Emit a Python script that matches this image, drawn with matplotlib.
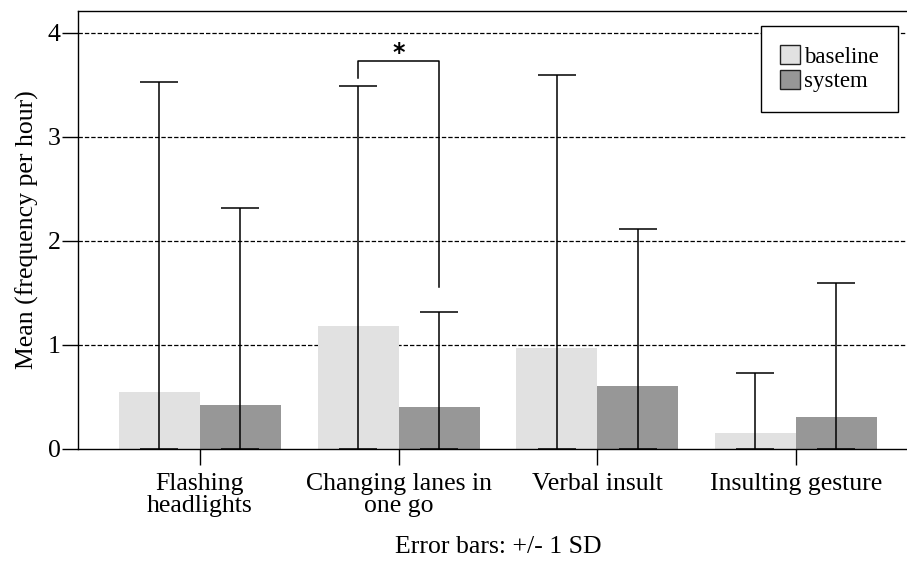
import numpy as np
import matplotlib
matplotlib.use("Agg")
import matplotlib.pyplot as plt

# mean frequency per hour and standard deviation per behaviour
categories = ["Flashing\nheadlights", "Changing lanes in\none go", "Verbal insult", "Insulting gesture"]
baseline_mean = [0.55, 1.18, 0.97, 0.15]
baseline_sd = [2.98, 2.31, 2.62, 0.58]
system_mean = [0.42, 0.40, 0.61, 0.31]
system_sd = [1.90, 0.92, 1.50, 1.29]

plt.rcParams["font.family"] = ["Liberation Serif", "DejaVu Serif"]
fs = 18.5

fig = plt.figure(figsize=(9.07, 5.62), dpi=100)
ax = fig.add_axes([0.086, 0.2011, 0.926, 0.7794])

x = np.arange(len(categories))
width = 0.408

bm = np.array(baseline_mean)
bs = np.array(baseline_sd)
sm = np.array(system_mean)
ss = np.array(system_sd)

ax.bar(x - width / 2, bm, width, color="#e1e1e1", label="baseline", zorder=2)
ax.bar(x + width / 2, sm, width, color="#979797", label="system", zorder=2)

# error bars are cut off at zero
ax.errorbar(x - width / 2, bm, yerr=[np.minimum(bs, bm), bs], fmt="none",
            ecolor="black", elinewidth=1.1, capsize=14, capthick=1.1, zorder=3)
ax.errorbar(x + width / 2, sm, yerr=[np.minimum(ss, sm), ss], fmt="none",
            ecolor="black", elinewidth=1.1, capsize=14, capthick=1.1, zorder=3)

# significance bracket for lane changes
x1 = 1 - width / 2
x2 = 1 + width / 2
ax.plot([x1, x1, x2, x2], [3.57, 3.73, 3.73, 1.56], color="black", lw=1.1, zorder=3)
ax.text(1, 3.92, "*", ha="center", va="top", fontsize=17, fontweight="bold",
        family="DejaVu Sans")

ax.set_xlim(-0.614, 3.614)
ax.set_ylim(0, 4.21)
ax.set_yticks([0, 1, 2, 3, 4])
ax.set_xticks(x)
ax.set_xticklabels(categories, linespacing=0.98)

for yv in [1, 2, 3, 4]:
    ax.axhline(yv, color="black", lw=0.9, linestyle=(0, (3.5, 1.6)), zorder=1)

ax.tick_params(axis="both", direction="out", length=11.5, width=1.0, labelsize=fs)
ax.tick_params(axis="y", pad=1)
ax.tick_params(axis="x", pad=6)
for s in ax.spines.values():
    s.set_linewidth(1.0)

ax.set_ylabel("Mean (frequency per hour)", fontsize=fs, labelpad=6)
ax.set_xlabel("Error bars: +/- 1 SD", fontsize=fs, labelpad=14)

leg = ax.legend(loc="upper left", bbox_to_anchor=(0.813, 0.966), frameon=True,
                fancybox=False, edgecolor="black", framealpha=1, fontsize=16.5,
                handlelength=0.88, handleheight=0.88, handletextpad=0.15,
                borderpad=0.85, labelspacing=0.1, borderaxespad=0)
leg.get_frame().set_linewidth(1.0)
for h in leg.legend_handles:
    h.set_edgecolor("#222222")
    h.set_linewidth(1.0)

fig.savefig("out.png", dpi=100)
